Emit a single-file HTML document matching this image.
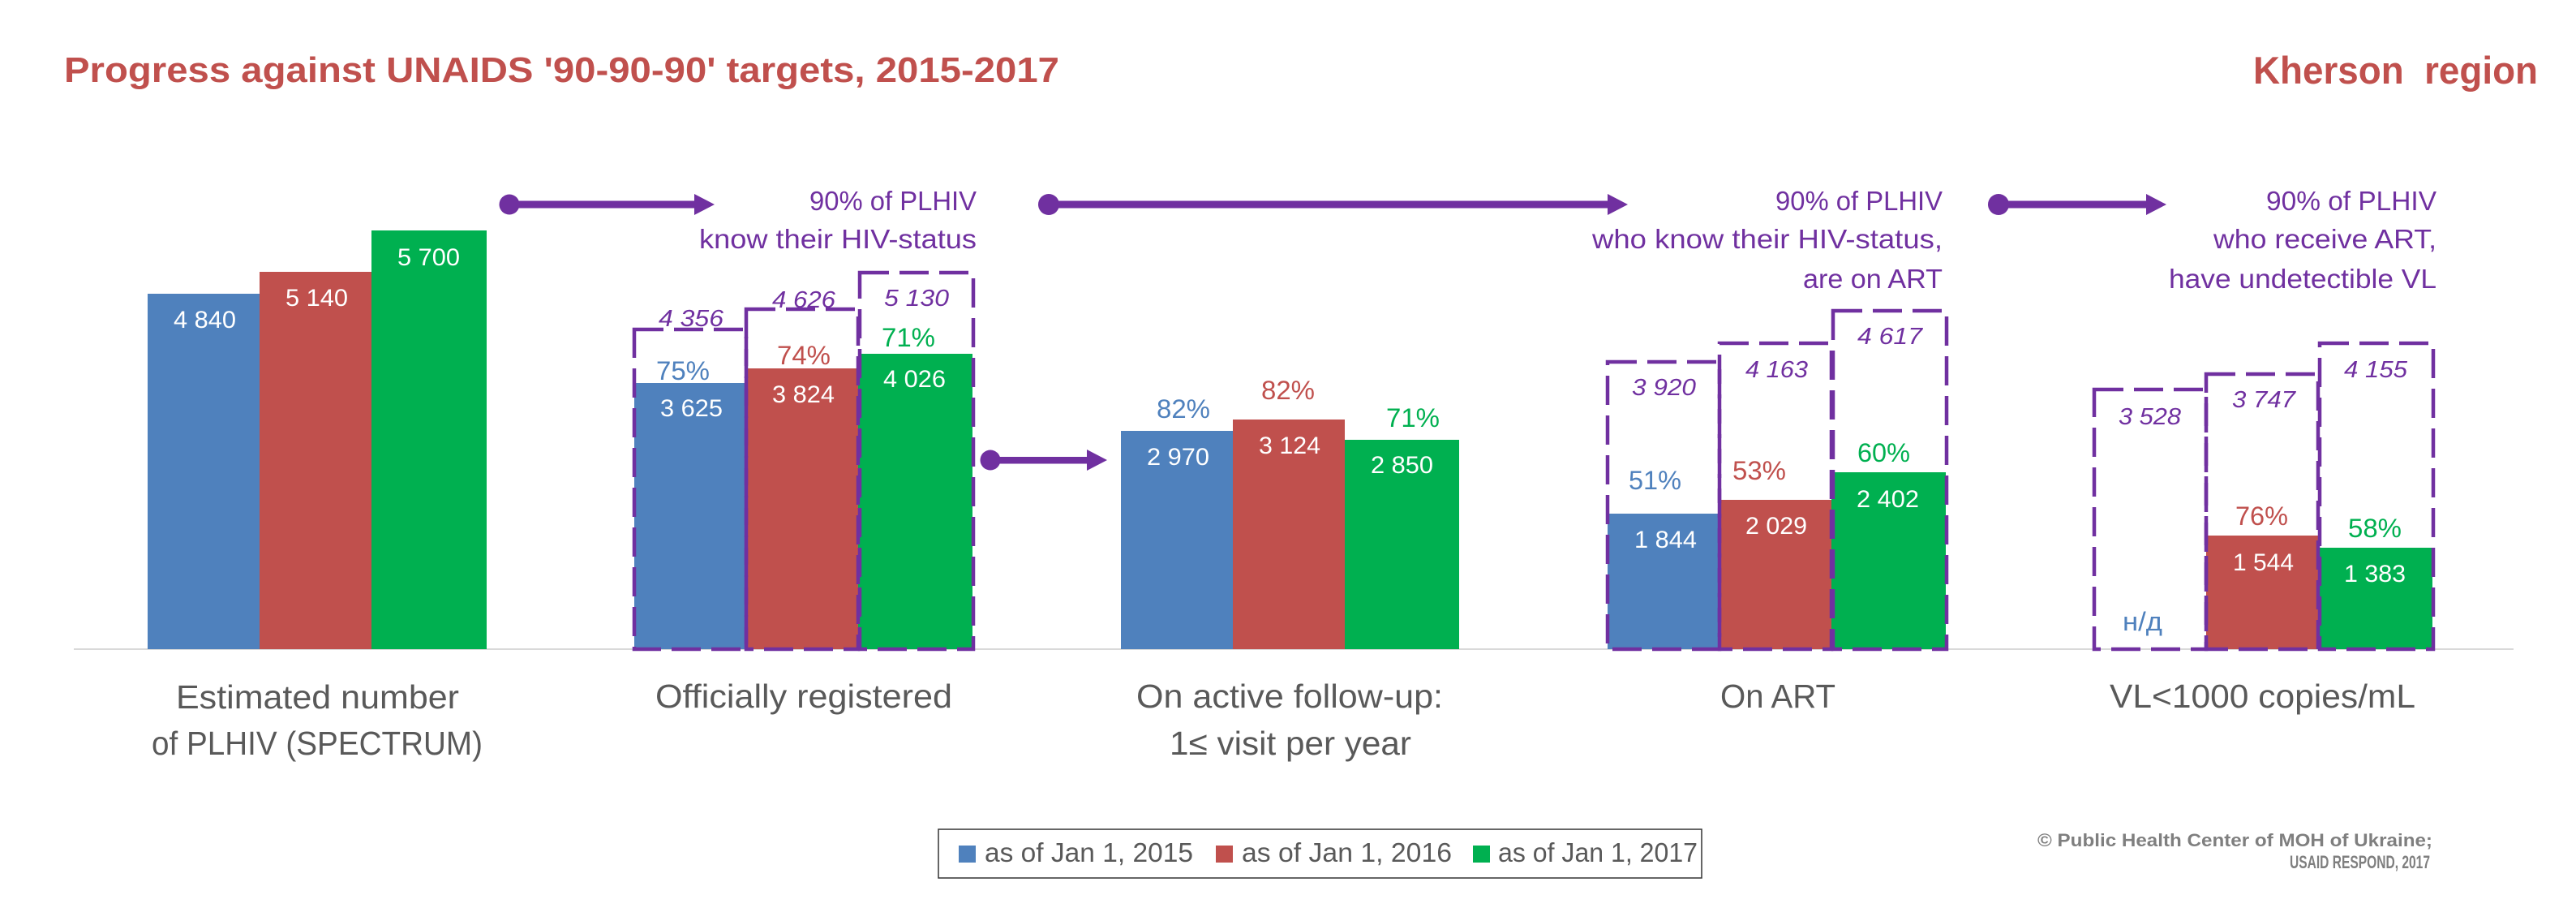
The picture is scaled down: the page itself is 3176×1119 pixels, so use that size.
<!DOCTYPE html>
<html>
<head>
<meta charset="utf-8">
<style>
html,body{margin:0;padding:0;background:#fff;}
svg{display:block;}
text{font-family:"Liberation Sans",sans-serif;}
</style>
</head>
<body>
<svg width="3176" height="1119" viewBox="0 0 3176 1119" xmlns="http://www.w3.org/2000/svg">
<rect width="3176" height="1119" fill="#fff"/>

<!-- Titles -->
<text x="79" y="101" font-size="44" font-weight="bold" fill="#c0504d" textLength="1227" lengthAdjust="spacingAndGlyphs">Progress against UNAIDS '90-90-90' targets, 2015-2017</text>
<text x="2778" y="103" font-size="47" font-weight="bold" fill="#c0504d" style="white-space:pre" textLength="351" lengthAdjust="spacingAndGlyphs">Kherson  region</text>

<!-- Axis line -->
<line x1="91" y1="800" x2="3099" y2="800" stroke="#d9d9d9" stroke-width="2"/>

<!-- Bars -->
<g>
<rect x="182" y="362" width="138" height="438" fill="#4f81bd"/>
<rect x="320" y="335" width="138" height="465" fill="#c0504d"/>
<rect x="458" y="284" width="142" height="516" fill="#00b050"/>

<rect x="782" y="472" width="138" height="328" fill="#4f81bd"/>
<rect x="920" y="454" width="138" height="346" fill="#c0504d"/>
<rect x="1058" y="436" width="141" height="364" fill="#00b050"/>

<rect x="1382" y="531" width="138" height="269" fill="#4f81bd"/>
<rect x="1520" y="517" width="138" height="283" fill="#c0504d"/>
<rect x="1658" y="542" width="141" height="258" fill="#00b050"/>

<rect x="1982" y="633" width="138" height="167" fill="#4f81bd"/>
<rect x="2120" y="616" width="138" height="184" fill="#c0504d"/>
<rect x="2258" y="582" width="141" height="218" fill="#00b050"/>

<rect x="2720" y="660" width="138" height="140" fill="#c0504d"/>
<rect x="2858" y="675" width="141" height="125" fill="#00b050"/>
</g>

<!-- Dashed target boxes -->
<g fill="none" stroke="#7030a0" stroke-width="4.5" stroke-dasharray="36 13">
<rect x="782" y="406" width="138" height="394"/>
<rect x="920" y="381" width="138" height="419"/>
<rect x="1060" y="336" width="140" height="464"/>

<rect x="1982" y="446" width="138" height="354"/>
<rect x="2120" y="423" width="138" height="377"/>
<rect x="2260" y="383" width="140" height="417"/>

<rect x="2582" y="480" width="138" height="320"/>
<rect x="2720" y="461" width="138" height="339"/>
<rect x="2860" y="423" width="140" height="377"/>
</g>

<!-- Arrows -->
<g fill="#7030a0">
<circle cx="628" cy="252" r="12.5"/>
<rect x="628" y="247.5" width="230" height="9"/>
<polygon points="856,239 881,252 856,265"/>

<circle cx="1293" cy="252" r="13"/>
<rect x="1293" y="247.5" width="690" height="9"/>
<polygon points="1982,239 2007,252 1982,265"/>

<circle cx="2464" cy="252" r="13"/>
<rect x="2464" y="247.5" width="184" height="9"/>
<polygon points="2646,239 2671,252 2646,265"/>

<circle cx="1221" cy="567" r="12.5"/>
<rect x="1221" y="563" width="120" height="8.5"/>
<polygon points="1340,554 1365,567 1340,580"/>
</g>

<!-- Purple annotation texts -->
<g font-size="33" fill="#7030a0">
<text x="998" y="259" textLength="206" lengthAdjust="spacingAndGlyphs">90% of PLHIV</text>
<text x="862" y="306" textLength="342" lengthAdjust="spacingAndGlyphs">know their HIV-status</text>

<text x="2189" y="259" textLength="206" lengthAdjust="spacingAndGlyphs">90% of PLHIV</text>
<text x="1963" y="306" textLength="432" lengthAdjust="spacingAndGlyphs">who know their HIV-status,</text>
<text x="2223" y="355" textLength="172" lengthAdjust="spacingAndGlyphs">are on ART</text>

<text x="2794" y="259" textLength="210" lengthAdjust="spacingAndGlyphs">90% of PLHIV</text>
<text x="2729" y="306" textLength="275" lengthAdjust="spacingAndGlyphs">who receive ART,</text>
<text x="2674" y="355" textLength="330" lengthAdjust="spacingAndGlyphs">have undetectible VL</text>
</g>

<!-- Value labels inside bars -->
<g font-size="30" fill="#ffffff">
<text x="214" y="404" textLength="77" lengthAdjust="spacingAndGlyphs">4 840</text>
<text x="352" y="377" textLength="77" lengthAdjust="spacingAndGlyphs">5 140</text>
<text x="490" y="327" textLength="77" lengthAdjust="spacingAndGlyphs">5 700</text>

<text x="814" y="513" textLength="77" lengthAdjust="spacingAndGlyphs">3 625</text>
<text x="952" y="496" textLength="77" lengthAdjust="spacingAndGlyphs">3 824</text>
<text x="1089" y="477" textLength="77" lengthAdjust="spacingAndGlyphs">4 026</text>

<text x="1414" y="573" textLength="77" lengthAdjust="spacingAndGlyphs">2 970</text>
<text x="1552" y="559" textLength="76" lengthAdjust="spacingAndGlyphs">3 124</text>
<text x="1690" y="583" textLength="77" lengthAdjust="spacingAndGlyphs">2 850</text>

<text x="2015" y="675" textLength="77" lengthAdjust="spacingAndGlyphs">1 844</text>
<text x="2152" y="658" textLength="76" lengthAdjust="spacingAndGlyphs">2 029</text>
<text x="2289" y="625" textLength="77" lengthAdjust="spacingAndGlyphs">2 402</text>

<text x="2753" y="703" textLength="75" lengthAdjust="spacingAndGlyphs">1 544</text>
<text x="2890" y="717" textLength="76" lengthAdjust="spacingAndGlyphs">1 383</text>
</g>

<!-- Italic target values -->
<g font-size="29" font-style="italic" fill="#7030a0">
<text x="812" y="402" textLength="80" lengthAdjust="spacingAndGlyphs">4 356</text>
<text x="952" y="379" textLength="78" lengthAdjust="spacingAndGlyphs">4 626</text>
<text x="1090" y="377" textLength="80" lengthAdjust="spacingAndGlyphs">5 130</text>

<text x="2012" y="487" textLength="79" lengthAdjust="spacingAndGlyphs">3 920</text>
<text x="2152" y="465" textLength="77" lengthAdjust="spacingAndGlyphs">4 163</text>
<text x="2290" y="424" textLength="80" lengthAdjust="spacingAndGlyphs">4 617</text>

<text x="2612" y="523" textLength="77" lengthAdjust="spacingAndGlyphs">3 528</text>
<text x="2752" y="502" textLength="78" lengthAdjust="spacingAndGlyphs">3 747</text>
<text x="2890" y="465" textLength="78" lengthAdjust="spacingAndGlyphs">4 155</text>
</g>

<!-- Percent labels -->
<g font-size="32.5">
<text x="809" y="468" fill="#4f81bd" textLength="66" lengthAdjust="spacingAndGlyphs">75%</text>
<text x="958" y="449" fill="#c0504d" textLength="66" lengthAdjust="spacingAndGlyphs">74%</text>
<text x="1087" y="427" fill="#00b050" textLength="66" lengthAdjust="spacingAndGlyphs">71%</text>

<text x="1426" y="515" fill="#4f81bd" textLength="66" lengthAdjust="spacingAndGlyphs">82%</text>
<text x="1555" y="492" fill="#c0504d" textLength="66" lengthAdjust="spacingAndGlyphs">82%</text>
<text x="1709" y="526" fill="#00b050" textLength="66" lengthAdjust="spacingAndGlyphs">71%</text>

<text x="2008" y="603" fill="#4f81bd" textLength="65" lengthAdjust="spacingAndGlyphs">51%</text>
<text x="2136" y="591" fill="#c0504d" textLength="66" lengthAdjust="spacingAndGlyphs">53%</text>
<text x="2290" y="569" fill="#00b050" textLength="65" lengthAdjust="spacingAndGlyphs">60%</text>

<text x="2756" y="647" fill="#c0504d" textLength="65" lengthAdjust="spacingAndGlyphs">76%</text>
<text x="2895" y="662" fill="#00b050" textLength="66" lengthAdjust="spacingAndGlyphs">58%</text>

<text x="2617" y="777" fill="#4f81bd" font-size="32" textLength="49" lengthAdjust="spacingAndGlyphs">н/д</text>
</g>

<!-- Category labels -->
<g font-size="41" fill="#595959">
<text x="217" y="873" textLength="349" lengthAdjust="spacingAndGlyphs">Estimated number</text>
<text x="187" y="930" textLength="408" lengthAdjust="spacingAndGlyphs">of PLHIV (SPECTRUM)</text>
<text x="808" y="872" textLength="366" lengthAdjust="spacingAndGlyphs">Officially registered</text>
<text x="1401" y="872" textLength="378" lengthAdjust="spacingAndGlyphs">On active follow-up:</text>
<text x="1442" y="930" textLength="298" lengthAdjust="spacingAndGlyphs">1≤ visit per year</text>
<text x="2121" y="872" textLength="142" lengthAdjust="spacingAndGlyphs">On ART</text>
<text x="2601" y="872" textLength="377" lengthAdjust="spacingAndGlyphs">VL&lt;1000 copies/mL</text>
</g>

<!-- Legend -->
<rect x="1157" y="1022" width="941" height="60" fill="#fff" stroke="#333333" stroke-width="1.5"/>
<rect x="1182" y="1042" width="21" height="21" fill="#4f81bd"/>
<rect x="1499" y="1042" width="21" height="21" fill="#c0504d"/>
<rect x="1816" y="1042" width="21" height="21" fill="#00b050"/>
<g font-size="33" fill="#595959">
<text x="1214" y="1062" textLength="257" lengthAdjust="spacingAndGlyphs">as of Jan 1, 2015</text>
<text x="1531" y="1062" textLength="259" lengthAdjust="spacingAndGlyphs">as of Jan 1, 2016</text>
<text x="1847" y="1062" textLength="246" lengthAdjust="spacingAndGlyphs">as of Jan 1, 2017</text>
</g>

<!-- Copyright -->
<g font-size="22" font-weight="bold" fill="#7f7f7f">
<text x="2512" y="1043" textLength="487" lengthAdjust="spacingAndGlyphs">© Public Health Center of MOH of Ukraine;</text>
<text x="2823" y="1070" textLength="173" lengthAdjust="spacingAndGlyphs">USAID RESPOND, 2017</text>
</g>
</svg>
</body>
</html>
